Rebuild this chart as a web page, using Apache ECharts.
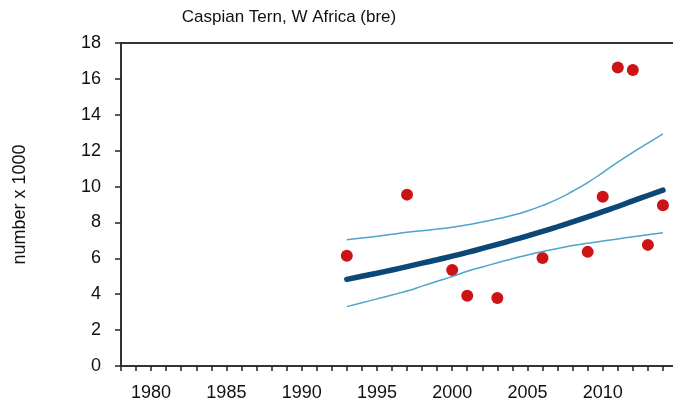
<!DOCTYPE html>
<html>
<head>
<meta charset="utf-8">
<script src="https://cdn.jsdelivr.net/npm/echarts@6/dist/echarts.min.js"></script>
<style>
  html, body { margin: 0; padding: 0; background: #fff; }
  #chart { width: 673px; height: 405px; }
</style>
</head>
<body>
<div id="chart"></div>
<script>
// counts (x1000)
var obsYears = [1993, 1997, 2000, 2001, 2003, 2006, 2009, 2010, 2011, 2012, 2013, 2014];
var obsValues = [6.15, 9.55, 5.35, 3.92, 3.79, 6.02, 6.36, 9.43, 16.64, 16.49, 6.75, 8.96];

// trend line and confidence band
var trendYears = [1993, 1994, 1995, 1996, 1997, 1998, 1999, 2000, 2001, 2002, 2003,
  2004, 2005, 2006, 2007, 2008, 2009, 2010, 2011, 2012, 2013, 2014];
var trendValues = [4.83, 5.00, 5.17, 5.35, 5.54, 5.73, 5.92, 6.12, 6.33, 6.55, 6.78,
  7.01, 7.25, 7.50, 7.76, 8.03, 8.31, 8.60, 8.89, 9.20, 9.50, 9.80];
var upperValues = [7.03, 7.13, 7.23, 7.34, 7.45, 7.54, 7.63, 7.73, 7.87, 8.02, 8.20,
  8.40, 8.64, 8.94, 9.30, 9.74, 10.22, 10.78, 11.36, 11.90, 12.42, 12.94];
var lowerValues = [3.31, 3.52, 3.74, 3.96, 4.18, 4.45, 4.72, 4.98, 5.28, 5.52, 5.75,
  5.98, 6.18, 6.38, 6.55, 6.71, 6.84, 6.96, 7.08, 7.20, 7.31, 7.42];

var labelYears = [1980, 1985, 1990, 1995, 2000, 2005, 2010];

function pairs(xs, ys) {
  return xs.map(function (x, i) { return [x, ys[i]]; });
}

var font = 'Liberation Sans';
var chart = echarts.init(document.getElementById('chart'));
var option = {
  backgroundColor: '#fff',
  animation: false,
  title: {
    text: 'Caspian Tern, W Africa (bre)',
    left: 284,
    top: 4,
    textAlign: 'center',
    textStyle: { fontFamily: font, fontSize: 17, fontWeight: 'normal', color: '#111' }
  },
  grid: {
    left: 121,
    right: -5,
    top: 43,
    bottom: 39,
    outerBoundsMode: 'none',
    show: true,
    borderColor: '#333',
    borderWidth: 2
  },
  xAxis: {
    type: 'value',
    min: 1978,
    max: 2015,
    interval: 1,
    axisLine: { show: true, lineStyle: { color: '#333', width: 2 } },
    axisTick: { show: true, length: 5, lineStyle: { color: '#222', width: 1.5 } },
    splitLine: { show: false },
    axisLabel: {
      margin: 18,
      fontFamily: font,
      fontSize: 18,
      color: '#111',
      formatter: function (v) {
        return labelYears.indexOf(v) > -1 ? String(v) : '';
      }
    }
  },
  yAxis: {
    type: 'value',
    min: 0,
    max: 18,
    interval: 2,
    name: 'number x 1000',
    nameLocation: 'middle',
    nameGap: 92,
    nameTextStyle: { fontFamily: font, fontSize: 18, color: '#111' },
    axisLine: { show: true, lineStyle: { color: '#333', width: 2 } },
    axisTick: { show: true, length: 6, lineStyle: { color: '#222', width: 1.5 } },
    splitLine: { show: false },
    axisLabel: { margin: 20, fontFamily: font, fontSize: 18, color: '#111' }
  },
  series: [
    {
      type: 'line',
      data: pairs(trendYears, upperValues),
      symbol: 'none',
      smooth: true,
      lineStyle: { color: '#4ea4c9', width: 1.5 }
    },
    {
      type: 'line',
      data: pairs(trendYears, lowerValues),
      symbol: 'none',
      smooth: true,
      lineStyle: { color: '#4ea4c9', width: 1.5 }
    },
    {
      type: 'line',
      data: pairs(trendYears, trendValues),
      symbol: 'none',
      smooth: true,
      lineStyle: { color: '#0b4777', width: 5.5, cap: 'round' }
    },
    {
      type: 'scatter',
      data: pairs(obsYears, obsValues),
      symbolSize: 12,
      itemStyle: { color: '#cc1417', opacity: 1 }
    }
  ]
};
chart.setOption(option);
</script>
</body>
</html>
